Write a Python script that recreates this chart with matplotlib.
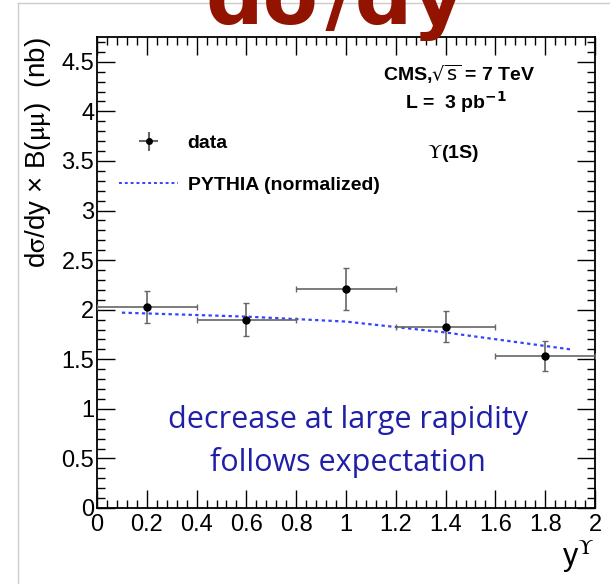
import matplotlib
matplotlib.use("Agg")
import matplotlib.pyplot as plt
from matplotlib.ticker import MultipleLocator
from matplotlib.lines import Line2D
import numpy as np

# data
y_bins = [0.2, 0.6, 1.0, 1.4, 1.8]
y_halfwidth = [0.2, 0.2, 0.2, 0.2, 0.2]
xsec = [2.03, 1.90, 2.21, 1.83, 1.53]
xsec_err = [0.16, 0.17, 0.21, 0.16, 0.15]

pythia_y = [0.1, 0.6, 1.0, 1.4, 1.9]
pythia_xsec = [1.97, 1.93, 1.88, 1.77, 1.60]

xticks = [0, 0.2, 0.4, 0.6, 0.8, 1, 1.2, 1.4, 1.6, 1.8, 2]
xtick_labels = ["0", "0.2", "0.4", "0.6", "0.8", "1", "1.2", "1.4", "1.6", "1.8", "2"]
yticks = [0, 0.5, 1, 1.5, 2, 2.5, 3, 3.5, 4, 4.5]
ytick_labels = ["0", "0.5", "1", "1.5", "2", "2.5", "3", "3.5", "4", "4.5"]

plt.rcParams['font.family'] = ['Liberation Sans', 'DejaVu Sans']

fig = plt.figure(figsize=(6.10, 5.84), dpi=100)
W, H = 610, 584
ax = fig.add_axes([97 / W, 1 - 508 / H, (595 - 97) / W, (508 - 37) / H])

ax.errorbar(y_bins, xsec, xerr=y_halfwidth, yerr=xsec_err, fmt='o', color='black',
            ecolor='#666666', elinewidth=1.2, capsize=2, markersize=5, zorder=3)
ax.plot(pythia_y, pythia_xsec, color='#3344ff', linestyle=(0, (1.5, 1.5)), lw=1.6)

ax.set_xlim(0, 2)
ax.set_ylim(0, 4.75)
ax.set_xticks(xticks)
ax.set_xticklabels(xtick_labels)
ax.set_yticks(yticks)
ax.set_yticklabels(ytick_labels)
ax.xaxis.set_minor_locator(MultipleLocator(0.04))
ax.yaxis.set_minor_locator(MultipleLocator(0.1))
ax.tick_params(which='both', direction='in', top=True, right=True, labelsize=17, width=1)
ax.tick_params(which='major', length=13)
ax.tick_params(which='minor', length=6)
ax.tick_params(axis='x', pad=4)
ax.tick_params(axis='y', pad=2)
for s in ax.spines.values():
    s.set_linewidth(1.3)

ax.set_ylabel(r"d$\mathrm{\sigma}$/dy × B($\mathrm{\mu\mu}$)  (nb)", fontsize=20,
              loc='top', labelpad=6, math_fontfamily='stix')
ax.set_xlabel(r"y$^{\Upsilon}$", fontsize=22, loc='right', labelpad=2,
              math_fontfamily='stix')

# legend
h_data = ax.errorbar([], [], xerr=[], yerr=[], fmt='o', color='black', ecolor='#666666',
                     markersize=4)
h_py = Line2D([], [], color='#3344ff', linestyle=(0, (1.5, 1.5)), lw=1.4)
ax.legend([h_data, h_py], ["data", "PYTHIA (normalized)"], loc='upper left',
          bbox_to_anchor=(0.01, 0.83), frameon=False, handlelength=3.0,
          handletextpad=0.5, labelspacing=1.25, prop={'weight': 'bold', 'size': 14})

fig.text(459 / W, 1 - 74 / H, r"CMS,$\sqrt{\rm s}$ = 7 TeV", ha='center',
         va='center', fontsize=14, fontweight='bold')
fig.text(456 / W, 1 - 102 / H, r"L =  3 pb$^{\mathbf{-1}}$", ha='center',
         va='center', fontsize=14, fontweight='bold')
fig.text(453 / W, 1 - 153 / H, r"$\Upsilon$(1S)", ha='center', va='center',
         fontsize=14, fontweight='bold', math_fontfamily='stix')

fig.text(348 / W, 1 - 420 / H, "decrease at large rapidity", ha='center', va='center',
         fontsize=22, color='#1f1fa8', family='Open Sans')
fig.text(348 / W, 1 - 462 / H, "follows expectation", ha='center', va='center',
         fontsize=22, color='#1f1fa8', family='Open Sans')

# slide title, cut off at the top
fig.text(335 / W, 1 - 24 / H, "dσ/dy", ha='center', va='baseline', fontsize=58,
         fontweight='bold', color='#921400', family='DejaVu Sans')

# slide frame lines
fig.add_artist(Line2D([18 / W, 18 / W], [0, 1 - 3 / H], color='#cccccc', lw=1))
fig.add_artist(Line2D([18 / W, 1], [1 - 3 / H, 1 - 3 / H], color='#cccccc', lw=1))

fig.savefig("out.png", dpi=100)
